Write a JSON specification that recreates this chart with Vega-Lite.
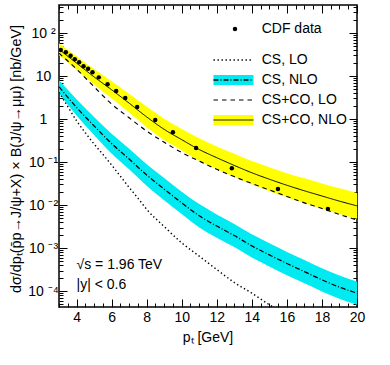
{
  "$schema": "https://vega.github.io/schema/vega-lite/v6.json",
  "width": 298,
  "height": 302,
  "autosize": "none",
  "padding": {"left": 59, "top": 5, "right": 33, "bottom": 58},
  "background": "white",
  "config": {
    "font": "Liberation Sans",
    "view": {"stroke": "black", "strokeWidth": 1.5},
    "axis": {"grid": false, "domain": false, "tickColor": "black", "tickWidth": 1, "labelColor": "black", "titleColor": "black", "labelFontSize": 14, "titleFontSize": 14, "titleFontWeight": "normal", "labelFlush": false, "labelOverlap": false, "labelBound": false},
    "legend": {"labelFontSize": 14, "labelColor": "black", "padding": 0, "titlePadding": 0, "labelFont": "Liberation Sans"}
  },
  "datasets": {
    "bands": [
      {"band": "b2", "x": 3, "lo": 3.98, "hi": 7.94},
      {"band": "b2", "x": 4, "lo": 1.20, "hi": 2.88},
      {"band": "b2", "x": 5, "lo": 0.427, "hi": 1.12},
      {"band": "b2", "x": 6, "lo": 0.158, "hi": 0.457},
      {"band": "b2", "x": 7, "lo": 0.0676, "hi": 0.204},
      {"band": "b2", "x": 8, "lo": 0.0282, "hi": 0.0891},
      {"band": "b2", "x": 9, "lo": 0.0129, "hi": 0.0427},
      {"band": "b2", "x": 10, "lo": 0.00617, "hi": 0.0204},
      {"band": "b2", "x": 11, "lo": 0.00302, "hi": 0.0105},
      {"band": "b2", "x": 12, "lo": 0.00174, "hi": 0.00603},
      {"band": "b2", "x": 13, "lo": 0.00105, "hi": 0.00363},
      {"band": "b2", "x": 14, "lo": 0.000603, "hi": 0.00209},
      {"band": "b2", "x": 15, "lo": 0.000372, "hi": 0.00129},
      {"band": "b2", "x": 16, "lo": 0.000234, "hi": 0.000813},
      {"band": "b2", "x": 17, "lo": 0.000151, "hi": 0.000525},
      {"band": "b2", "x": 18, "lo": 0.0000977, "hi": 0.000339},
      {"band": "b2", "x": 19, "lo": 0.0000661, "hi": 0.000229},
      {"band": "b2", "x": 20, "lo": 0.0000479, "hi": 0.000166},
      {"band": "b4", "x": 3, "lo": 30.2, "hi": 57.5},
      {"band": "b4", "x": 4, "lo": 13.8, "hi": 28.8},
      {"band": "b4", "x": 5, "lo": 6.31, "hi": 14.5},
      {"band": "b4", "x": 6, "lo": 3.02, "hi": 7.59},
      {"band": "b4", "x": 7, "lo": 1.41, "hi": 3.89},
      {"band": "b4", "x": 8, "lo": 0.646, "hi": 1.95},
      {"band": "b4", "x": 9, "lo": 0.324, "hi": 1.02},
      {"band": "b4", "x": 10, "lo": 0.186, "hi": 0.589},
      {"band": "b4", "x": 11, "lo": 0.107, "hi": 0.355},
      {"band": "b4", "x": 12, "lo": 0.0692, "hi": 0.229},
      {"band": "b4", "x": 13, "lo": 0.0447, "hi": 0.155},
      {"band": "b4", "x": 14, "lo": 0.0302, "hi": 0.105},
      {"band": "b4", "x": 15, "lo": 0.0209, "hi": 0.0759},
      {"band": "b4", "x": 16, "lo": 0.0151, "hi": 0.0550},
      {"band": "b4", "x": 17, "lo": 0.0110, "hi": 0.0417},
      {"band": "b4", "x": 18, "lo": 0.00832, "hi": 0.0316},
      {"band": "b4", "x": 19, "lo": 0.00617, "hi": 0.0245},
      {"band": "b4", "x": 20, "lo": 0.00479, "hi": 0.0191}
    ],
    "lines": [
      {"series": "CS, LO", "x": 3, "v": 4.17},
      {"series": "CS, LO", "x": 3.5, "v": 1.95},
      {"series": "CS, LO", "x": 4, "v": 0.912},
      {"series": "CS, LO", "x": 4.5, "v": 0.479},
      {"series": "CS, LO", "x": 5, "v": 0.263},
      {"series": "CS, LO", "x": 5.5, "v": 0.151},
      {"series": "CS, LO", "x": 6, "v": 0.0851},
      {"series": "CS, LO", "x": 6.5, "v": 0.0468},
      {"series": "CS, LO", "x": 7, "v": 0.0257},
      {"series": "CS, LO", "x": 7.5, "v": 0.0145},
      {"series": "CS, LO", "x": 8, "v": 0.00794},
      {"series": "CS, LO", "x": 9, "v": 0.00316},
      {"series": "CS, LO", "x": 10, "v": 0.00132},
      {"series": "CS, LO", "x": 11, "v": 0.000646},
      {"series": "CS, LO", "x": 12, "v": 0.000316},
      {"series": "CS, LO", "x": 13, "v": 0.000158},
      {"series": "CS, LO", "x": 14, "v": 0.0000891},
      {"series": "CS, LO", "x": 15, "v": 0.0000479},
      {"series": "CS, LO", "x": 16, "v": 0.0000269},
      {"series": "CS, NLO", "x": 3, "v": 5.62},
      {"series": "CS, NLO", "x": 4, "v": 1.86},
      {"series": "CS, NLO", "x": 5, "v": 0.692},
      {"series": "CS, NLO", "x": 6, "v": 0.269},
      {"series": "CS, NLO", "x": 7, "v": 0.117},
      {"series": "CS, NLO", "x": 8, "v": 0.0501},
      {"series": "CS, NLO", "x": 9, "v": 0.0234},
      {"series": "CS, NLO", "x": 10, "v": 0.0112},
      {"series": "CS, NLO", "x": 11, "v": 0.00562},
      {"series": "CS, NLO", "x": 12, "v": 0.00324},
      {"series": "CS, NLO", "x": 13, "v": 0.00195},
      {"series": "CS, NLO", "x": 14, "v": 0.00112},
      {"series": "CS, NLO", "x": 15, "v": 0.000692},
      {"series": "CS, NLO", "x": 16, "v": 0.000437},
      {"series": "CS, NLO", "x": 17, "v": 0.000282},
      {"series": "CS, NLO", "x": 18, "v": 0.000182},
      {"series": "CS, NLO", "x": 19, "v": 0.000123},
      {"series": "CS, NLO", "x": 20, "v": 0.0000891},
      {"series": "CS+CO, LO", "x": 3, "v": 33.9},
      {"series": "CS+CO, LO", "x": 4, "v": 14.5},
      {"series": "CS+CO, LO", "x": 5, "v": 5.62},
      {"series": "CS+CO, LO", "x": 6, "v": 2.24},
      {"series": "CS+CO, LO", "x": 7, "v": 1.07},
      {"series": "CS+CO, LO", "x": 8, "v": 0.525},
      {"series": "CS+CO, LO", "x": 9, "v": 0.288},
      {"series": "CS+CO, LO", "x": 10, "v": 0.166},
      {"series": "CS+CO, LO", "x": 11, "v": 0.105},
      {"series": "CS+CO, LO", "x": 12, "v": 0.0676},
      {"series": "CS+CO, LO", "x": 13, "v": 0.0457},
      {"series": "CS+CO, LO", "x": 14, "v": 0.0316},
      {"series": "CS+CO, LO", "x": 15, "v": 0.0224},
      {"series": "CS+CO, LO", "x": 16, "v": 0.0158},
      {"series": "CS+CO, LO", "x": 17, "v": 0.0112},
      {"series": "CS+CO, LO", "x": 18, "v": 0.00832},
      {"series": "CS+CO, LO", "x": 19, "v": 0.00603},
      {"series": "CS+CO, LO", "x": 20, "v": 0.00447},
      {"series": "CS+CO, NLO", "x": 3, "v": 41.7},
      {"series": "CS+CO, NLO", "x": 4, "v": 19.95},
      {"series": "CS+CO, NLO", "x": 5, "v": 9.55},
      {"series": "CS+CO, NLO", "x": 6, "v": 4.79},
      {"series": "CS+CO, NLO", "x": 7, "v": 2.34},
      {"series": "CS+CO, NLO", "x": 8, "v": 1.12},
      {"series": "CS+CO, NLO", "x": 9, "v": 0.575},
      {"series": "CS+CO, NLO", "x": 10, "v": 0.331},
      {"series": "CS+CO, NLO", "x": 11, "v": 0.195},
      {"series": "CS+CO, NLO", "x": 12, "v": 0.126},
      {"series": "CS+CO, NLO", "x": 13, "v": 0.0832},
      {"series": "CS+CO, NLO", "x": 14, "v": 0.0562},
      {"series": "CS+CO, NLO", "x": 15, "v": 0.0398},
      {"series": "CS+CO, NLO", "x": 16, "v": 0.0288},
      {"series": "CS+CO, NLO", "x": 17, "v": 0.0214},
      {"series": "CS+CO, NLO", "x": 18, "v": 0.0162},
      {"series": "CS+CO, NLO", "x": 19, "v": 0.0123},
      {"series": "CS+CO, NLO", "x": 20, "v": 0.00955}
    ],
    "cdf": [
      {"label": "CDF data", "x": 3.10, "v": 40.3},
      {"label": "CDF data", "x": 3.39, "v": 35.6},
      {"label": "CDF data", "x": 3.66, "v": 29.7},
      {"label": "CDF data", "x": 3.90, "v": 24.4},
      {"label": "CDF data", "x": 4.15, "v": 20.8},
      {"label": "CDF data", "x": 4.40, "v": 16.8},
      {"label": "CDF data", "x": 4.66, "v": 14.8},
      {"label": "CDF data", "x": 4.91, "v": 12.2},
      {"label": "CDF data", "x": 5.27, "v": 9.3},
      {"label": "CDF data", "x": 5.77, "v": 6.4},
      {"label": "CDF data", "x": 6.26, "v": 4.48},
      {"label": "CDF data", "x": 6.78, "v": 3.07},
      {"label": "CDF data", "x": 7.46, "v": 1.90},
      {"label": "CDF data", "x": 8.49, "v": 0.95},
      {"label": "CDF data", "x": 9.50, "v": 0.49},
      {"label": "CDF data", "x": 10.82, "v": 0.212},
      {"label": "CDF data", "x": 12.86, "v": 0.0713},
      {"label": "CDF data", "x": 15.49, "v": 0.0236},
      {"label": "CDF data", "x": 18.34, "v": 0.0081}
    ],
    "notes": [
      {"x": 4.0, "v": 0.000403, "label": "√s = 1.96 TeV"},
      {"x": 4.0, "v": 0.000138, "label": "|y| < 0.6"}
    ]
  },
  "resolve": {"axis": {"x": "independent", "y": "independent"}},
  "layer": [
    {
      "data": {"name": "bands"},
      "mark": {"type": "area", "interpolate": "monotone", "clip": true, "opacity": 1},
      "encoding": {
        "x": {"field": "x", "type": "quantitative",
          "scale": {"domain": [3, 20], "nice": false, "zero": false},
          "axis": {"orient": "bottom",
            "values": [3,3.5,4,4.5,5,5.5,6,6.5,7,7.5,8,8.5,9,9.5,10,10.5,11,11.5,12,12.5,13,13.5,14,14.5,15,15.5,16,16.5,17,17.5,18,18.5,19,19.5,20],
            "labelExpr": "datum.value % 2 == 0 ? format(datum.value, 'd') : ''",
            "tickSize": {"condition": {"test": "datum.value % 2 == 0", "value": -8}, "value": -4},
            "labelPadding": 11,
            "title": "pₜ [GeV]", "titleX": 148.5, "titleY": 30, "titleAlign": "center", "titleBaseline": "middle"}},
        "y": {"field": "lo", "type": "quantitative",
          "scale": {"type": "log", "domain": [0.0000425, 448], "nice": false},
          "axis": {"orient": "left",
            "values": [0.00005,0.00006,0.00007,0.00008,0.00009,0.0001,0.0002,0.0003,0.0004,0.0005,0.0006,0.0007,0.0008,0.0009,0.001,0.002,0.003,0.004,0.005,0.006,0.007,0.008,0.009,0.01,0.02,0.03,0.04,0.05,0.06,0.07,0.08,0.09,0.1,0.2,0.3,0.4,0.5,0.6,0.7,0.8,0.9,1,2,3,4,5,6,7,8,9,10,20,30,40,50,60,70,80,90,100,200,300,400],
            "labelExpr": "abs(log(datum.value)/LN10 - round(log(datum.value)/LN10)) < 0.001 ? ['10 ⁻⁴','10 ⁻³','10 ⁻²','10 ⁻¹','1','10','10 ²'][round(log(datum.value)/LN10)+4] : ''",
            "tickSize": {"condition": {"test": "abs(log(datum.value)/LN10 - round(log(datum.value)/LN10)) < 0.001", "value": -8}, "value": -4},
            "labelPadding": 24, "labelAlign": "center", "labelBaseline": "middle",
            "title": "dσ/dpₜ(p̄p→J/ψ+X) × B(J/ψ→μμ)  [nb/GeV]",
            "titleX": -42.5, "titleY": 153.5, "titleAngle": -90, "titleAlign": "center", "titleBaseline": "middle", "titleFontSize": 14.4}},
        "y2": {"field": "hi"},
        "fill": {"field": "band", "type": "nominal",
          "scale": {"domain": ["b1", "b2", "b3", "b4"], "range": ["transparent", "#00eaf2", "transparent", "#ffff00"]},
          "legend": {"title": null, "orient": "none", "legendX": 167.5, "legendY": 48, "direction": "vertical",
            "symbolType": "M-4,-1H4V1H-4Z", "symbolSize": 100, "symbolStrokeWidth": 0, "symbolOpacity": 1,
            "labelExpr": "' '", "labelColor": "transparent", "labelFontSize": 14, "labelOffset": -30, "rowPadding": 6}}
      }
    },
    {
      "data": {"name": "lines"},
      "mark": {"type": "line", "interpolate": "monotone", "clip": true, "color": "black"},
      "encoding": {
        "x": {"field": "x", "type": "quantitative",
          "scale": {"domain": [3, 20], "nice": false, "zero": false},
          "axis": {"orient": "top", "labels": false, "title": null,
            "values": [3,3.5,4,4.5,5,5.5,6,6.5,7,7.5,8,8.5,9,9.5,10,10.5,11,11.5,12,12.5,13,13.5,14,14.5,15,15.5,16,16.5,17,17.5,18,18.5,19,19.5,20],
            "tickSize": {"condition": {"test": "datum.value % 2 == 0", "value": -8}, "value": -4}}},
        "y": {"field": "v", "type": "quantitative",
          "scale": {"type": "log", "domain": [0.0000425, 448], "nice": false},
          "axis": {"orient": "right", "labels": false, "title": null,
            "values": [0.00005,0.00006,0.00007,0.00008,0.00009,0.0001,0.0002,0.0003,0.0004,0.0005,0.0006,0.0007,0.0008,0.0009,0.001,0.002,0.003,0.004,0.005,0.006,0.007,0.008,0.009,0.01,0.02,0.03,0.04,0.05,0.06,0.07,0.08,0.09,0.1,0.2,0.3,0.4,0.5,0.6,0.7,0.8,0.9,1,2,3,4,5,6,7,8,9,10,20,30,40,50,60,70,80,90,100,200,300,400],
            "tickSize": {"condition": {"test": "abs(log(datum.value)/LN10 - round(log(datum.value)/LN10)) < 0.001", "value": -8}, "value": -4}}},
        "strokeWidth": {"field": "series", "type": "nominal",
          "scale": {"domain": ["CS, LO", "CS, NLO", "CS+CO, LO", "CS+CO, NLO"], "range": [1.4, 1, 1, 1.1]},
          "legend": null},
        "strokeDash": {"field": "series", "type": "nominal",
          "scale": {"domain": ["CS, LO", "CS, NLO", "CS+CO, LO", "CS+CO, NLO"], "range": [[1.4, 2.6], [5, 2, 1, 2], [4.5, 4], [1, 0]]},
          "legend": {"title": null, "orient": "none", "legendX": 167.5, "legendY": 48, "direction": "vertical",
            "symbolType": "M-4,0H4", "symbolSize": 100, "symbolStrokeColor": "black", "symbolStrokeWidth": 1, "symbolFillColor": "transparent",
            "labelFontSize": 14, "labelOffset": 21.2, "rowPadding": 6}}
      }
    },
    {
      "data": {"name": "cdf"},
      "mark": {"type": "point", "filled": true, "color": "black", "size": 20, "opacity": 1, "clip": true},
      "encoding": {
        "x": {"field": "x", "type": "quantitative", "scale": {"domain": [3, 20], "nice": false, "zero": false}, "axis": null},
        "y": {"field": "v", "type": "quantitative", "scale": {"type": "log", "domain": [0.0000425, 448], "nice": false}, "axis": null},
        "shape": {"field": "label", "type": "nominal", "scale": {"range": ["circle"]},
          "legend": {"title": null, "orient": "none", "legendX": 169, "legendY": 17,
            "symbolSize": 20, "symbolFillColor": "black", "symbolStrokeWidth": 0, "symbolOpacity": 1,
            "labelFontSize": 14, "labelOffset": 19.7}}
      }
    },
    {
      "data": {"name": "notes"},
      "mark": {"type": "text", "align": "left", "baseline": "middle", "fontSize": 14, "color": "black"},
      "encoding": {
        "x": {"field": "x", "type": "quantitative", "scale": {"domain": [3, 20], "nice": false, "zero": false}, "axis": null},
        "y": {"field": "v", "type": "quantitative", "scale": {"type": "log", "domain": [0.0000425, 448], "nice": false}, "axis": null},
        "text": {"field": "label"}
      }
    }
  ]
}
